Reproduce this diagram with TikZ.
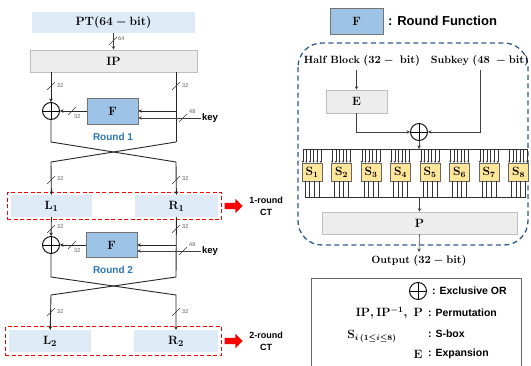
\documentclass[tikz,border=0pt]{standalone}
\usepackage{fontspec}
\setsansfont{Liberation Sans}
\usetikzlibrary{arrows.meta,shapes.arrows,fit}

\definecolor{ltblue}{HTML}{DEEBF7}
\definecolor{boxgray}{HTML}{EDEDED}
\definecolor{edgegray}{HTML}{BFBFBF}
\definecolor{fblue}{HTML}{9DC3E6}
\definecolor{syellow}{HTML}{FFE699}
\definecolor{roundblue}{HTML}{2E75B6}
\definecolor{dashblue}{HTML}{2F5A88}

\tikzset{
  mathtxt/.style={font=\fontsize{13}{15}\selectfont\boldmath},
  midtxt/.style={font=\fontsize{10.5}{12}\selectfont\boldmath},
  lite/.style={fill=ltblue, draw=none, inner sep=0pt},
  grybox/.style={fill=boxgray, draw=edgegray, line width=0.6pt, inner sep=0pt},
  fbox/.style={fill=fblue, draw=black!55, line width=0.6pt, inner sep=0pt},
  sbox/.style={fill=syellow, draw=black!60, line width=0.5pt, inner sep=0pt,
    minimum width=20pt, minimum height=18pt, font=\fontsize{12}{14}\selectfont\boldmath},
  xorop/.style={circle, draw, line width=0.9pt, minimum size=17pt, inner sep=0pt,
    path picture={\draw[line width=0.9pt]
      (path picture bounding box.north) -- (path picture bounding box.south)
      (path picture bounding box.west) -- (path picture bounding box.east);}},
  wire/.style={line width=0.9pt, draw=black!85},
  thin/.style={line width=0.6pt, draw=black!75},
  tap/.style={line width=0.45pt, draw=black!80},
  tip/.style={-{Stealth[length=3.5pt,width=3.5pt]}},
  smalltip/.style={-{Stealth[length=2pt,width=2pt]}},
  markline/.style={line width=0.6pt, draw=black!80},
  bits/.style={font=\sffamily\fontsize{5.5}{6}\selectfont, text=black!65, inner sep=0pt, anchor=west},
  keylbl/.style={font=\sffamily\bfseries\fontsize{9.5}{11}\selectfont, inner sep=1pt},
  rlbl/.style={font=\sffamily\bfseries\fontsize{10}{12}\selectfont, text=roundblue},
  ctlbl/.style={font=\sffamily\bfseries\fontsize{9}{12}\selectfont, align=center},
  lgtxt/.style={font=\sffamily\bfseries\fontsize{10.5}{12}\selectfont, anchor=west, inner sep=0pt},
  redbox/.style={draw=red, dashed, dash pattern=on 4pt off 2.5pt, line width=1pt,
    inner xsep=3.5pt, inner ysep=2.5pt},
  redarrow/.style={single arrow, fill=red, draw=none, inner sep=3pt,
    minimum height=18pt, minimum width=14pt, single arrow head extend=4pt},
}

% width mark on a wire: slash at (#1,#2), label at (#3,#4)
\newcommand{\wmark}[5]{%
  \draw[markline] (#1-4,#2+4) -- (#1+4,#2-4);
  \node[bits] (w#1x#2) at (#3,#4) {#5};
}

\begin{document}
\begin{tikzpicture}[x=1pt,y=-1pt]
  \useasboundingbox (0,0) rectangle (531,365);

  % Draw the plaintext and the initial permutation
  \node[lite, mathtxt, minimum width=163pt, minimum height=21pt] (pt) at (113.5,22.5) {$\mathbf{PT(64-bit)}$};
  \node[grybox, mathtxt, minimum width=167pt, minimum height=22pt] (ip) at (113.5,61) {$\mathbf{IP}$};
  \draw[thin,tip] (pt) -- (ip);
  \wmark{113}{41}{118}{39}{64}

  % Draw the halves after each round
  \node[lite, mathtxt, minimum width=81pt, minimum height=22pt] (lA) at (51.5,206) {$\mathbf{L_1}$};
  \node[lite, mathtxt, minimum width=83pt, minimum height=22pt] (rA) at (176.5,206) {$\mathbf{R_1}$};
  \node[redbox, fit=(lA)(rA)] (boxA) {};
  \node[redarrow] (arrA) at (232,206) {};
  \node[ctlbl] (ctA) at (266,206) {1-round\\CT};

  \node[lite, mathtxt, minimum width=82pt, minimum height=22pt] (lB) at (50,341) {$\mathbf{L_2}$};
  \node[lite, mathtxt, minimum width=84pt, minimum height=22pt] (rB) at (176,341) {$\mathbf{R_2}$};
  \node[redbox, fit=(lB)(rB), inner ysep=3pt] (boxB) {};
  \node[redarrow] (arrB) at (232,341) {};
  \node[ctlbl] (ctB) at (266,341) {2-round\\CT};

  % Round 1
  \node[xorop] (xorA) at (51,111) {};
  \node[fbox, mathtxt, minimum width=51pt, minimum height=26pt] (fA) at (112.5,111) {$\mathbf{F}$};
  \node[rlbl] (roundA) at (113,137) {Round 1};
  \node[keylbl] (keyA) at (210,118) {key};
  \coordinate (la0) at (51,142);
  \coordinate (ra0) at (176,142);
  \coordinate (la1) at (51,162);
  \coordinate (ra1) at (176,162);

  \draw[wire,tip] (ip.south -| xorA) -- (xorA);
  \draw[wire] (ip.south -| ra0) -- (ra0);
  \draw[wire,tip] (fA.east -| ra0) -- (fA.east);
  \draw[thin,tip] (keyA.west) -- (keyA.west -| fA.east);
  \draw[wire,tip] (fA) -- (xorA);
  \draw[wire,tip] (xorA) -- (la0) -- (ra1) -- (rA);
  \draw[wire,tip] (ra0) -- (la1) -- (lA);
  \wmark{51}{86}{57}{86}{32}
  \wmark{176}{86}{182}{86}{32}
  \wmark{72}{111}{74}{117}{32}
  \wmark{183}{118}{189}{112}{48}
  \wmark{51}{180}{57}{179}{32}
  \wmark{176}{180}{182}{179}{32}

  % Round 2
  \node[xorop] (xorB) at (51,245) {};
  \node[fbox, mathtxt, minimum width=51pt, minimum height=25pt] (fB) at (111.5,245) {$\mathbf{F}$};
  \node[rlbl] (roundB) at (113,270) {Round 2};
  \node[keylbl] (keyB) at (210,251) {key};
  \coordinate (lb0) at (51,277);
  \coordinate (rb0) at (176,277);
  \coordinate (lb1) at (51,295);
  \coordinate (rb1) at (176,295);

  \draw[wire,tip] (lA) -- (xorB);
  \draw[wire] (rA) -- (rb0);
  \draw[wire,tip] (fB.east -| rb0) -- (fB.east);
  \draw[thin,tip] (keyB.west) -- (keyB.west -| fB.east);
  \draw[wire,tip] (fB) -- (xorB);
  \draw[wire,tip] (xorB) -- (lb0) -- (rb1) -- (rB);
  \draw[wire,tip] (rb0) -- (lb1) -- (lB);
  \wmark{51}{229}{57}{227}{32}
  \wmark{176}{229}{182}{227}{32}
  \wmark{72}{245}{74}{251}{32}
  \wmark{183}{251}{189}{245}{48}
  \wmark{51}{312}{57}{312}{32}
  \wmark{176}{312}{182}{312}{32}

  % Round function legend and its inside
  \node[fbox, mathtxt, minimum width=53pt, minimum height=26pt] (fl) at (356.5,21) {$\mathbf{F}$};
  \node[font=\sffamily\bfseries\fontsize{13}{15}\selectfont, anchor=west, inner sep=0pt] (rf) at (388,21) {: Round Function};
  \draw[dashblue, line width=1.3pt, dash pattern=on 5pt off 3.5pt, rounded corners=24pt] (298,43) rectangle (528,245);

  \node[midtxt] (hb) at (362,61) {\textbf{Half Block} $(\mathbf{32}-\ \mathbf{bit})$};
  \node[midtxt] (sk) at (480,61) {\textbf{Subkey} $(\mathbf{48}\ -\mathbf{bit})$};
  \node[grybox, midtxt, font=\fontsize{12}{14}\selectfont\boldmath, minimum width=61pt, minimum height=23pt] (ex) at (356.5,101.5) {$\mathbf{E}$};
  \node[xorop] (xorF) at (419,132) {};
  \draw[thin,tip] (ex.north |- hb.south) -- (ex.north);
  \draw[thin,tip] (ex.south) |- (xorF.west);
  \draw[thin,tip] (sk.south) |- (xorF.east);

  % S-box layer
  \coordinate (busL) at (303,149);
  \coordinate (busR) at (528,149);
  \coordinate (outL) at (305,197);
  \coordinate (outR) at (526,197);
  \draw[thin,tip] (xorF) -- (xorF |- busL);
  \draw[tap] (busL) -- (busR);
  \draw[tap] (outL) -- (outR);
  \foreach \i in {1,...,8} {
    \node[sbox] (s\i) at ({312+29.5*(\i-1)},172) {$\mathbf{S_{\i}}$};
    \foreach \k in {0,...,5}
      \draw[tap,smalltip] ([xshift={1+3.6*\k}] s\i.north west) ++(0,-14) -- ([xshift={1+3.6*\k}] s\i.north west);
    \foreach \k in {0,...,3}
      \draw[tap] ([xshift={3+4.7*\k}] s\i.south west) -- ++(0,16);
  }

  \node[grybox, mathtxt, font=\fontsize{12}{14}\selectfont\boldmath, minimum width=195pt, minimum height=22pt] (pp) at (419.5,223) {$\mathbf{P}$};
  \node[midtxt] (out) at (419,261) {\textbf{Output} $(\mathbf{32}-\mathbf{bit})$};
  \draw[thin,tip] (outL -| pp) -- (pp.north);
  \draw[thin,tip] (pp.south) -- (out.north);

  % Symbol table
  \draw[line width=0.6pt, draw=black!60] (311,278) rectangle (521,370);
  \node[xorop] (xorL) at (418,291) {};
  \node[lgtxt] (lg1) at (432,291) {: Exclusive OR};
  \node[mathtxt, font=\fontsize{12}{14}\selectfont\boldmath, anchor=east, inner sep=0pt] (lm2) at (423,313) {$\mathbf{IP,IP^{-1},\ P}$};
  \node[lgtxt] (lg2) at (428,313) {: Permutation};
  \node[mathtxt, font=\fontsize{12}{14}\selectfont\boldmath, inner sep=0pt] (lm3) at (372,336) {$\mathbf{S}_{i\,(1\le i\le 8)}$};
  \node[lgtxt] (lg3) at (428,334) {: S-box};
  \node[mathtxt, font=\fontsize{12}{14}\selectfont\boldmath, inner sep=0pt] (lm4) at (418,354) {$\mathbf{E}$};
  \node[lgtxt] (lg4) at (428,354) {: Expansion};
\end{tikzpicture}
\end{document}
